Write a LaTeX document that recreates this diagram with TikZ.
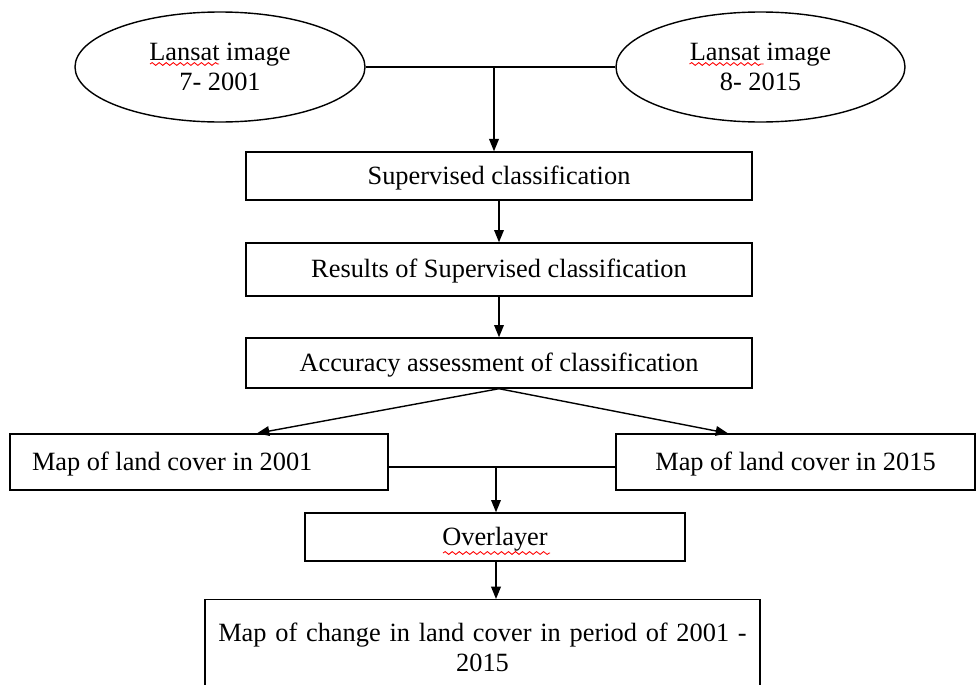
\documentclass[tikz,border=0pt]{standalone}
\usepackage{fontspec}
\setmainfont{Liberation Serif}
\usetikzlibrary{arrows.meta,shapes.geometric,decorations.pathmorphing}
\tikzset{
    source/.style={draw, ellipse, minimum width=5.8cm, minimum height=2.2cm, align=center},
    stepbox/.style={draw, rectangle, align=center, text height=1.15em, text depth=0.2em},
    endbox/.style={draw, rectangle, align=center},
    flow/.style={-{Triangle[length=7pt,width=5.5pt]}},
    squiggle/.style={red, line width=0.5pt, decorate, decoration={snake, amplitude=0.8pt, segment length=4pt}}
}

\begin{document}
\begin{tikzpicture}[font=\fontsize{15}{17}\selectfont, line width=0.8pt]

\useasboundingbox (0,0) rectangle (19.6,-13.68);

% Input images
\node[source] (lansat1) at (4.4,-1.34) {Lansat image\\7- 2001};
\node[source, minimum width=5.78cm] (lansat2) at (15.21,-1.34) {Lansat image\\8- 2015};

% Classification steps
\node[stepbox, minimum width=10.12cm, minimum height=0.96cm] (superv) at (9.98,-3.52) {Supervised classification};
\node[stepbox, minimum width=10.12cm, minimum height=1.06cm] (results) at (9.98,-5.39) {Results of Supervised classification};
\node[stepbox, minimum width=10.12cm, minimum height=1.0cm] (accuracy) at (9.98,-7.26) {Accuracy assessment of classification};

% Land cover maps
\node[stepbox, minimum height=1.12cm, inner xsep=0.44cm, text width=6.68cm, align=flush left] (map2001) at (3.98,-9.24) {Map of land cover in 2001};
\node[stepbox, minimum width=7.18cm, minimum height=1.12cm] (map2015) at (15.91,-9.24) {Map of land cover in 2015};

% Change detection
\node[stepbox, minimum width=7.6cm, minimum height=0.96cm] (overlayer) at (9.9,-10.74) {Overlayer};
\node[endbox, anchor=north, minimum width=11.1cm, minimum height=1.9cm, text width=10.8cm] (change) at (9.65,-11.98) {Map of change in land cover in period of 2001 -\\2015};

% Connectors
\draw (lansat1) -- (lansat2);
\coordinate (join1) at (9.88,-1.34);
\draw[flow] (join1) -- (join1 |- superv.north);
\draw[flow] (superv) -- (results);
\draw[flow] (results) -- (accuracy);
\draw[flow] (accuracy.south) -- ([xshift=1.16cm]map2001.north);
\draw[flow] (accuracy.south) -- ([xshift=-1.35cm]map2015.north);
\draw ([yshift=-0.1cm]map2001.east) -- ([yshift=-0.1cm]map2015.west);
\coordinate (join2) at (9.92,-9.34);
\draw[flow] (join2) -- (join2 |- overlayer.north);
\draw[flow] (overlayer.south -| join2) -- (join2 |- change.north);

% Spelling marks
\draw[squiggle] ([shift={(-1.4,0.06)}]lansat1.center) -- ([shift={(-0.02,0.06)}]lansat1.center);
\draw[squiggle] ([shift={(-1.42,0.06)}]lansat2.center) -- ([shift={(0.06,0.06)}]lansat2.center);
\draw[squiggle] ([shift={(-1.04,-0.32)}]overlayer.center) -- ([shift={(1.1,-0.32)}]overlayer.center);

\end{tikzpicture}
\end{document}
